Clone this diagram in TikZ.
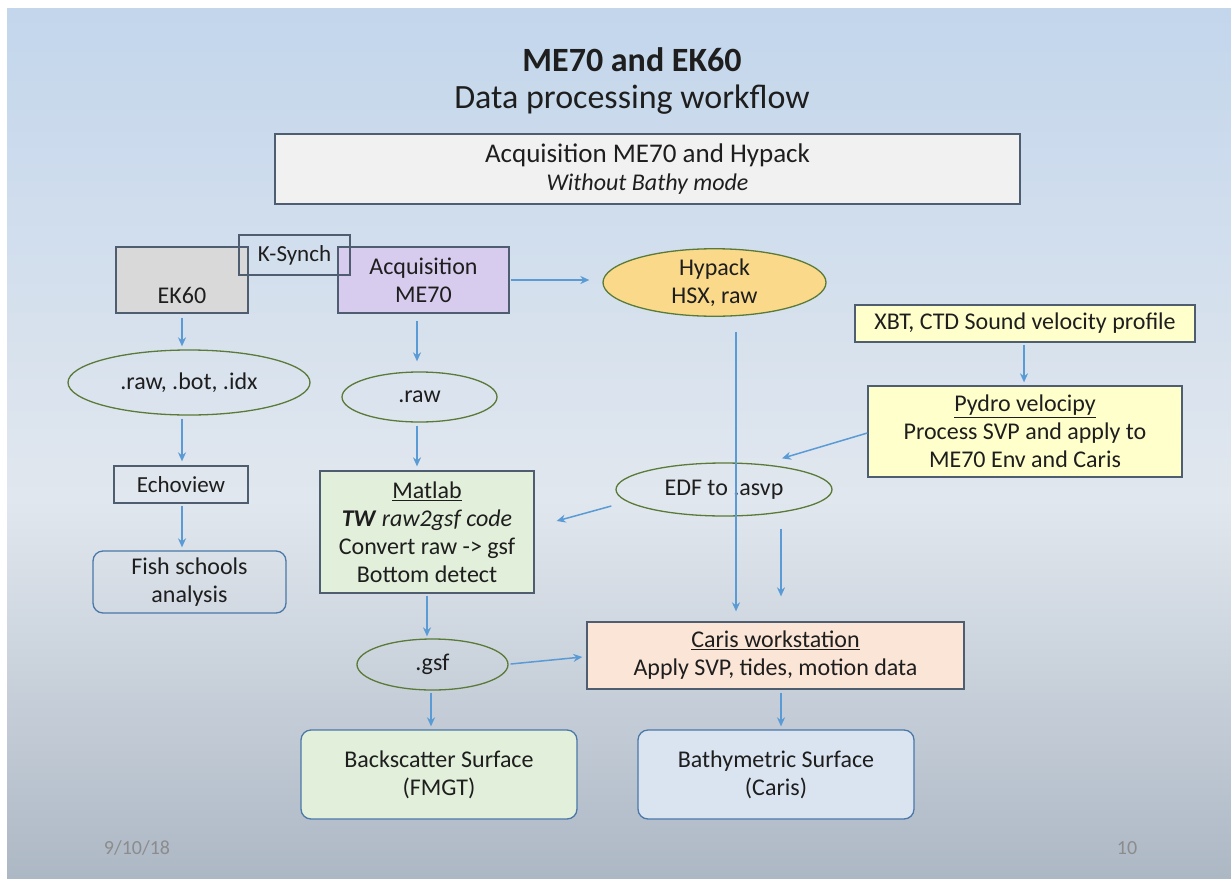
\documentclass[tikz,border=0pt]{standalone}
\usepackage{fontspec}
\setmainfont{Carlito}
\usetikzlibrary{shapes.geometric,arrows.meta,calc}
\definecolor{skytop}{HTML}{C3D6EC}
\definecolor{skymid}{HTML}{E1E7EE}
\definecolor{seabot}{HTML}{ADB8C5}
\definecolor{boxline}{HTML}{4F5D70}
\definecolor{ellline}{HTML}{5A7A38}
\definecolor{rndline}{HTML}{4A78A8}
\definecolor{arrblue}{HTML}{5B9BD5}
\definecolor{txt}{HTML}{1E1E1E}
\definecolor{topfill}{HTML}{F1F1F1}
\definecolor{ekfill}{HTML}{D9D9D9}
\definecolor{mefill}{HTML}{D7CBEE}
\definecolor{hypfill}{HTML}{FAD98A}
\definecolor{yelfill}{HTML}{FFFFCC}
\definecolor{grnfill}{HTML}{E2EFDA}
\definecolor{carfill}{HTML}{FBE5D6}
\definecolor{bluefill}{HTML}{DAE3F0}
\definecolor{foot}{HTML}{8C8C8C}
\newcommand\fsBody{\fontsize{24}{28}\selectfont}
\newcommand\fsTop{\fontsize{27}{28}\selectfont}
\newcommand\fsTitle{\fontsize{34}{40}\selectfont}
\newcommand\fsSmall{\fontsize{23}{28}\selectfont}
\begin{document}
\begin{tikzpicture}[x=1pt,y=-1pt,
  bx/.style={draw=boxline, line width=1.3pt, rectangle, inner sep=0pt, align=center, text=txt, font=\fsBody},
  el/.style={draw=ellline, line width=1.3pt, ellipse, inner sep=0pt, align=center, text=txt, font=\fsBody},
  rb/.style={draw=rndline, line width=1.3pt, rectangle, rounded corners=10pt, inner sep=0pt, align=center, text=txt, font=\fsBody},
  arr/.style={draw=arrblue, line width=1.5pt, -{Stealth[length=9pt,width=8pt]}},
  ttl/.style={text=txt, inner sep=0pt}]
\useasboundingbox (0,0) rectangle (1231,878);
\fill[white] (0,0) rectangle (1231,878);
\shade[top color=skytop, bottom color=skymid] (7,8) rectangle (1231,500.5);
\shade[top color=skymid, bottom color=seabot] (7,500) rectangle (1231,878);

% title
\node[ttl, font=\fsTitle\bfseries] (t1) at (632,60) {ME70 and EK60};
\node[ttl, font=\fsTitle] (t2) at (632,100) {Data processing workflow};

% top box
\node[bx, fill=topfill, minimum width=745, minimum height=70, font=\fsTop] (acq) at (647.5,169)
  {Acquisition ME70 and Hypack\\{\fontsize{24}{28}\selectfont\itshape Without Bathy mode}};

% row of acquisition
\node[bx, fill=ekfill, minimum width=132, minimum height=66] (ek60) at (182,280) {\strut\\EK60};
\node[bx, fill=mefill, minimum width=171, minimum height=66] (me70) at (423.5,280) {Acquisition\\ME70};
\node[bx, minimum width=111, minimum height=40, font=\fsSmall] (ksync) at (294.5,255) {K-Synch};
\node[el, fill=hypfill, minimum width=223, minimum height=49] (hyp) at (714.5,282.5) {Hypack\\HSX, raw};

% right column
\node[bx, fill=yelfill, minimum width=340, minimum height=37] (xbt) at (1025,323.5) {XBT, CTD Sound velocity profile};
\node[bx, fill=yelfill, minimum width=314, minimum height=91] (pydro) at (1025,431.5)
  {\underline{Pydro velocipy}\\Process SVP and apply to\\ME70 Env and Caris};

% files
\node[el, minimum width=242, minimum height=65] (rbi) at (189,382.5) {.raw, .bot, .idx};
\node[el, minimum width=155, minimum height=50] (raw) at (419.5,397) {.raw};
\node[el, minimum width=216, minimum height=53] (edf) at (724,489.5) {EDF to .asvp};

% processing
\node[bx, minimum width=134, minimum height=37, font=\fsSmall] (echo) at (181,484.5) {Echoview};
\node[rb, minimum width=193, minimum height=62] (fish) at (189.5,582) {Fish schools\\analysis};
\node[bx, fill=grnfill, minimum width=214, minimum height=122] (matlab) at (427,532)
  {\underline{Matlab}\\\textbf{\textit{TW}} \textit{raw2gsf code}\\Convert raw -> gsf\\Bottom detect};
\node[el, minimum width=151, minimum height=51] (gsf) at (432.5,664.5) {.gsf};
\node[bx, fill=carfill, minimum width=377, minimum height=67] (caris) at (775.5,655.5)
  {\underline{Caris workstation}\\Apply SVP, tides, motion data};

% outputs
\node[rb, fill=grnfill, minimum width=276, minimum height=89] (bs) at (439,774.5) {Backscatter Surface\\(FMGT)};
\node[rb, fill=bluefill, minimum width=276, minimum height=89] (bathy) at (776,774.5) {Bathymetric Surface\\(Caris)};

% footer
\node[ttl, text=foot, font=\fontsize{20}{24}\selectfont] (date) at (137,848) {9/10/18};
\node[ttl, text=foot, font=\fontsize{20}{24}\selectfont] (page) at (1127,848) {10};

% connectors
\draw[arr] ($(ek60.south)+(0,4)$) -- ($(rbi.north)+(-7,-3)$);
\draw[arr] ($(me70.south)+(-6.5,7)$) -- ($(raw.north)+(-2.5,-10)$);
\draw[arr] ($(me70.east)+(1,0)$) -- ($(hyp.west)+(-13,-2.5)$);
\draw[arr] ($(rbi.south)+(-7,3)$) -- ($(echo.north)+(1,-4)$);
\draw[arr] ($(echo.south)+(1,2)$) -- ($(fish.north)+(-7.5,-3)$);
\draw[arr] ($(raw.south)+(-2.5,3)$) -- ($(matlab.north)+(-10,-4)$);
\draw[arr] ($(hyp.south)+(21.5,15)$) -- ($(caris.north)+(-39.5,-10)$);
\draw[arr] ($(xbt.south)+(-1,2)$) -- ($(pydro.north)+(-1,-3)$);
\draw[arr] ($(pydro.west)+(0,1.5)$) -- ($(edf.north)+(58,-4)$);
\draw[arr] ($(edf.west)+(-4,16.5)$) -- ($(matlab.east)+(22,-11)$);
\draw[arr] ($(edf.south)+(57,12)$) -- ($(caris.north)+(5.5,-25)$);
\draw[arr] ($(matlab.south)+(0,2)$) -- ($(gsf.north)+(-5.5,-2)$);
\draw[arr] ($(gsf.east)+(2,-0.5)$) -- ($(caris.west)+(-4,1.5)$);
\draw[arr] ($(gsf.south)+(-1.5,2)$) -- ($(bs.north)+(-8,-3)$);
\draw[arr] ($(caris.south)+(5.5,3)$) -- ($(bathy.north)+(5,-3)$);
\end{tikzpicture}
\end{document}
